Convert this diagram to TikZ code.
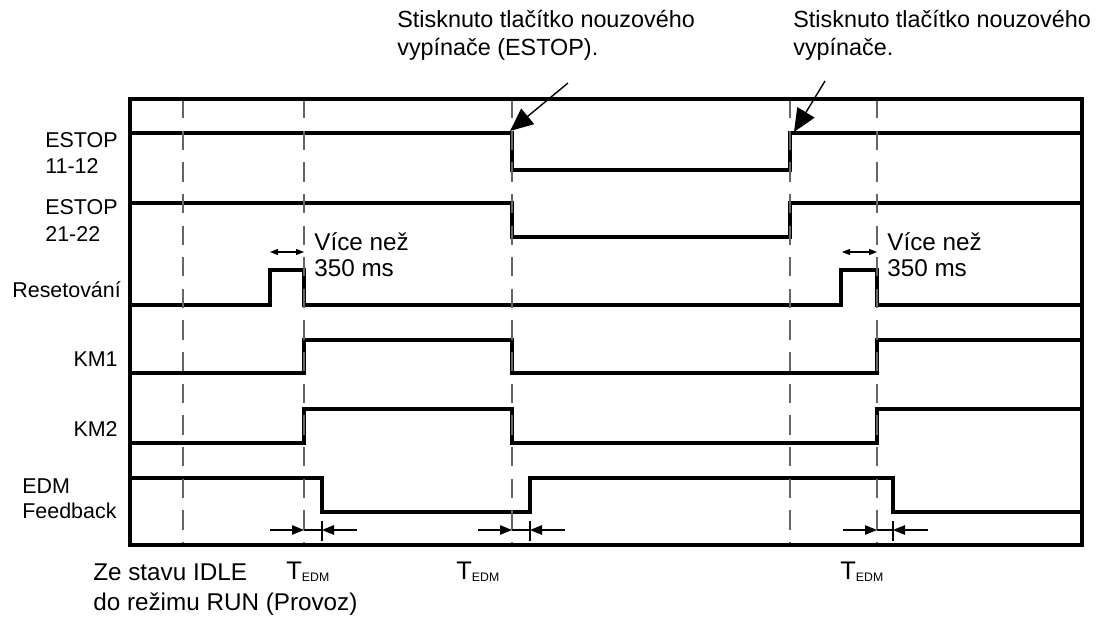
\documentclass[tikz,border=0pt]{standalone}
\usepackage{fontspec}
\setmainfont{Liberation Sans}
\usetikzlibrary{arrows.meta}

\begin{document}
\begin{tikzpicture}[
    x=0.2mm, y=-0.2mm,
    frame/.style={line width=2.3pt},
    sig/.style={line width=2.2pt, line join=miter},
    guide/.style={draw=black!60, line width=1.1pt, dash pattern=on 11pt off 7pt},
    dim/.style={line width=0.6pt},
    dimtip/.style={dim, -{Triangle[length=2.4mm, width=1.9mm]}},
    gap/.style={line width=0.6pt, {Triangle[length=1.6mm, width=1.2mm]}-{Triangle[length=1.6mm, width=1.2mm]}},
    callout/.style={line width=0.8pt, -{Triangle[length=4.6mm, width=4mm]}},
    lbl/.style={anchor=base west, inner sep=0pt, font=\fontsize{12.2}{14}\selectfont},
    lblr/.style={lbl, anchor=base east},
    note/.style={anchor=base west, inner sep=0pt, font=\fontsize{13.3}{15}\selectfont},
    big/.style={anchor=base west, inner sep=0pt, font=\fontsize{13.8}{16}\selectfont},
    tedm/.style={big, font=\fontsize{14.5}{16}\selectfont},
  ]
  \useasboundingbox (0,0) rectangle (1096,622);

  % Signal names
  \node (e1a) [lbl] at (45,148) {ESTOP};
  \node (e1b) [lbl] at (45,174) {11-12};
  \node (e2a) [lbl] at (45,215) {ESTOP};
  \node (e2b) [lbl] at (45,242) {21-22};
  \node (rst) [lbl] at (12,298) {Resetování};
  \node (km1) [lblr] at (118,367) {KM1};
  \node (km2) [lblr] at (118,436) {KM2};
  \node (edma) [lbl] at (22,493) {EDM};
  \node (edmb) [lbl] at (22,518) {Feedback};

  % Waveforms
  \draw [sig] (130,133) -- (512,133) -- (512,170) -- (790,170) -- (790,133) -- (1082,133);
  \draw [sig] (130,203) -- (512,203) -- (512,237) -- (790,237) -- (790,203) -- (1082,203);
  \draw [sig] (130,305) -- (270,305) -- (270,270) -- (304,270) -- (304,305)
    -- (841,305) -- (841,270) -- (877,270) -- (877,305) -- (1082,305);
  \draw [sig] (130,373) -- (304,373) -- (304,340) -- (512,340) -- (512,373)
    -- (877,373) -- (877,340) -- (1082,340);
  \draw [sig] (130,443) -- (304,443) -- (304,409) -- (512,409) -- (512,443)
    -- (877,443) -- (877,409) -- (1082,409);
  \draw [sig] (130,478) -- (322,478) -- (322,512) -- (530,512) -- (530,478)
    -- (893,478) -- (893,512) -- (1082,512);

  % Time marks
  \foreach \x in {183,304,512,790,877}
    \draw [guide] (\x,99) -- (\x,545);
  \draw [frame] (130,99) rectangle (1082,545);

  % Reset pulse width
  \draw [gap] (270,252) -- (304,252);
  \draw [gap] (842,252) -- (877,252);
  \node (w1a) [big] at (314,251) {Více než};
  \node (w1b) [big] at (314,277) {350 ms};
  \node (w2a) [big] at (887,251) {Více než};
  \node (w2b) [big] at (887,277) {350 ms};

  % T_EDM delays
  \foreach \a/\b in {304/322, 512/530, 877/893} {
    \draw [dim] (\a,530) -- (\b,530);
    \draw [dim] (\b,521) -- (\b,541);
    \draw [dimtip] (\a-34,530) -- (\a,530);
    \draw [dimtip] (\b+35,530) -- (\b,530);
  }
  \node (t1) [tedm] at (286,579) {T\raisebox{-1.7pt}{\fontsize{7}{8}\selectfont EDM}};
  \node (t2) [tedm] at (456,579) {T\raisebox{-1.7pt}{\fontsize{7}{8}\selectfont EDM}};
  \node (t3) [tedm] at (840,579) {T\raisebox{-1.7pt}{\fontsize{7}{8}\selectfont EDM}};

  \node (idle1) [big] at (93,580) {Ze stavu IDLE};
  \node (idle2) [big] at (93,610) {do režimu RUN (Provoz)};

  % Callouts
  \node (n1a) [note] at (397,28) {Stisknuto tlačítko nouzového};
  \node (n1b) [note] at (397,56) {vypínače (ESTOP).};
  \node (n2a) [note] at (793,28) {Stisknuto tlačítko nouzového};
  \node (n2b) [note] at (793,56) {vypínače.};
  \coordinate (c1) at (568,83);
  \coordinate (tip1) at (510,131);
  \coordinate (c2) at (825,81);
  \coordinate (tip2) at (794,132);
  \draw [callout] (c1) -- (tip1);
  \draw [callout] (c2) -- (tip2);
\end{tikzpicture}
\end{document}
